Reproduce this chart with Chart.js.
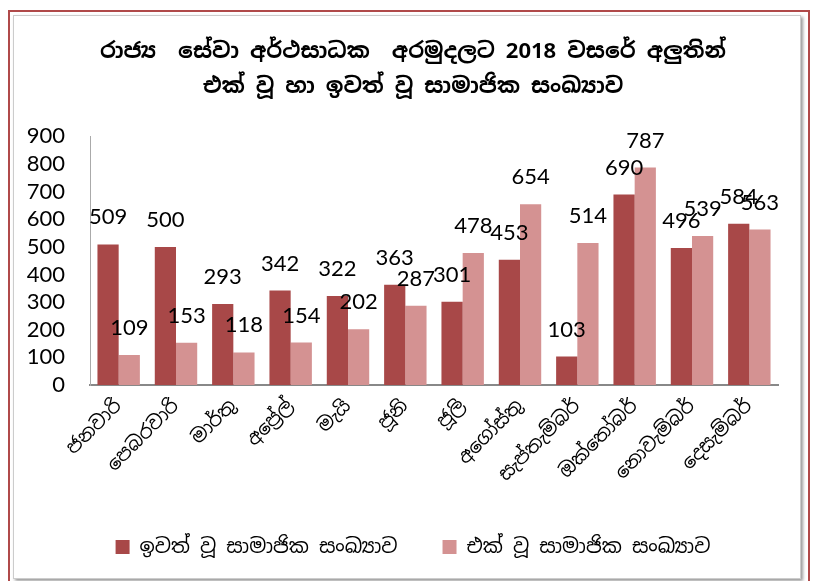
<!DOCTYPE html>
<html>
<head>
    <title>EPF members 2018</title>
    <script src="https://cdn.jsdelivr.net/npm/chart.js"></script>
    <style>
        body { margin: 0; background: #fff; }
        #outer { position: absolute; left: 8px; top: 10px; width: 798px; height: 580px; border: 2px solid #b04a4a; border-bottom: none; }
        #inner { position: absolute; left: 13px; top: 15px; width: 786px; height: 562px; border: 1px solid #ccc; box-shadow: 2px 2px 3px #999; }
        #wrap { position: absolute; left: 0; top: 0; width: 816px; height: 581px; }
    </style>
</head>
<body>
    <div id="outer"></div>
    <div id="inner"></div>
    <div id="wrap"><canvas id="chart" width="816" height="581"></canvas></div>

    <script>
        const months = ['ජනවාරි', 'පෙබරවාරි', 'මාර්තු', 'අප්‍රේල්', 'මැයි', 'ජූනි', 'ජූලි', 'අගෝස්තු', 'සැප්තැම්බර්', 'ඔක්තෝබර්', 'නොවැම්බර්', 'දෙසැම්බර්'];
        const leftMembers = [509, 500, 293, 342, 322, 363, 301, 453, 103, 690, 496, 584];   // ඉවත් වූ
        const joinedMembers = [109, 153, 118, 154, 202, 287, 478, 654, 514, 787, 539, 563]; // එක් වූ
        const yTicks = [0, 100, 200, 300, 400, 500, 600, 700, 800, 900];

        const sinhala = '"Noto Sans Sinhala", "Noto Serif Sinhala", "Iskoola Pota", "Lato", sans-serif';

        // value labels above each bar
        const barLabels = {
            id: 'barLabels',
            afterDatasetsDraw(chart) {
                const ctx = chart.ctx;
                ctx.save();
                ctx.font = '22px Lato, sans-serif';
                ctx.fillStyle = '#000';
                ctx.textAlign = 'center';
                ctx.textBaseline = 'middle';
                chart.data.datasets.forEach((ds, i) => {
                    chart.getDatasetMeta(i).data.forEach((bar, j) => {
                        ctx.fillText(ds.data[j], bar.x, bar.y - 27);
                    });
                });
                ctx.restore();
            }
        };

        new Chart(document.getElementById('chart'), {
            type: 'bar',
            data: {
                labels: months,
                datasets: [
                    { label: 'ඉවත් වූ සාමාජික සංඛ්‍යාව', data: leftMembers, backgroundColor: '#a84848' },
                    { label: 'එක් වූ සාමාජික සංඛ්‍යාව', data: joinedMembers, backgroundColor: '#d49292' }
                ]
            },
            options: {
                responsive: false,
                animation: false,
                layout: { padding: { top: 15, right: 0, bottom: 14, left: 10 } },
                datasets: { bar: { categoryPercentage: 0.74, barPercentage: 1 } },
                plugins: {
                    title: {
                        display: true,
                        text: ['රාජ්‍ය  සේවා අර්ථසාධක  අරමුදලට 2018 වසරේ අලුතින්', 'එක් වූ හා ඉවත් වූ සාමාජික සංඛ්‍යාව'],
                        font: { family: sinhala, size: 22, weight: 'bold', lineHeight: 1.6 },
                        color: '#000',
                        padding: { top: 19, bottom: 32 }
                    },
                    legend: {
                        position: 'bottom',
                        labels: {
                            font: { family: sinhala, size: 20 },
                            color: '#000',
                            boxWidth: 14,
                            boxHeight: 14,
                            padding: 45
                        }
                    },
                    tooltip: { enabled: false }
                },
                scales: {
                    x: {
                        grid: { display: false, drawTicks: false },
                        border: { display: true, color: '#888', width: 2 },
                        ticks: { font: { family: sinhala, size: 19 }, color: '#000', minRotation: 45, maxRotation: 45, padding: 10 },
                        afterFit(scale) { scale.height = 107; }
                    },
                    y: {
                        min: 0,
                        max: 900,
                        afterBuildTicks(scale) { scale.ticks = yTicks.map(v => ({ value: v })); },
                        grid: { display: false, drawTicks: false },
                        border: { display: true, color: '#aaa', width: 1 },
                        ticks: { font: { family: 'Lato, sans-serif', size: 22 }, color: '#000', padding: 25, autoSkip: false },
                        afterFit(scale) { scale.width = 80; }
                    },
                    // empty right-hand margin so the title and legend sit a little right of centre
                    yRight: {
                        position: 'right',
                        display: true,
                        grid: { display: false, drawTicks: false },
                        border: { display: false },
                        ticks: { display: false },
                        afterFit(scale) { scale.width = 38; }
                    }
                }
            },
            plugins: [barLabels]
        });
    </script>
</body>
</html>
